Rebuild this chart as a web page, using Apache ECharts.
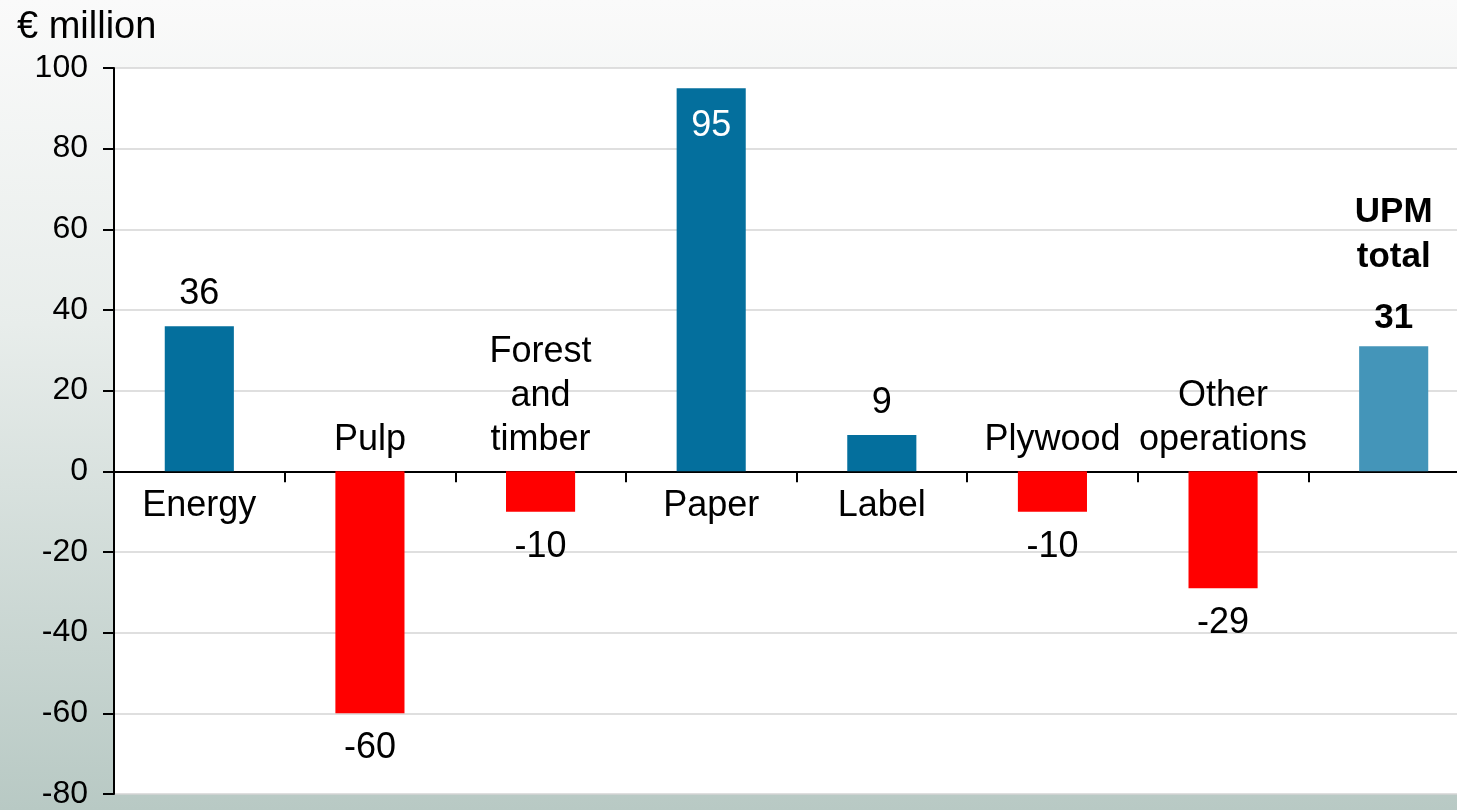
<!DOCTYPE html>
<html>
<head>
<meta charset="utf-8">
<script src="https://cdn.jsdelivr.net/npm/echarts@6/dist/echarts.min.js"></script>
<style>
html,body{margin:0;padding:0;}
body{width:1457px;height:810px;overflow:hidden;background:linear-gradient(to bottom,#fafafa 0%,#e8edeb 40%,#b8c9c4 100%);}
#chart{width:1479px;height:810px;}
</style>
</head>
<body>
<div id="chart"></div>
<script>
const categories = ['Energy','Pulp','Forest and timber','Paper','Label','Plywood','Other operations','UPM total'];
const values = [36, -60, -10, 95, 9, -10, -29, 31];
const nameLabels = ['Energy','Pulp','Forest\nand\ntimber','Paper','Label','Plywood','Other\noperations',''];
const totalName = 'UPM\ntotal';
const unitLabel = '€ million';

const FONT = 'Arial, "Liberation Sans", sans-serif';
const BLUE = '#046f9d';
const RED = '#ff0000';
const TOTAL = '#4495b9';

const barData = values.map((v, i) => {
  const isTotal = i === values.length - 1;
  const item = { value: v, itemStyle: { color: isTotal ? TOTAL : (v >= 0 ? BLUE : RED) } };
  if (isTotal) {
    const parts = totalName.split('\n').map(s => '{n|' + s + '}');
    item.label = {
      show: true, position: 'top', distance: 5,
      formatter: parts.join('\n') + '\n{s|}\n{n|' + v + '}',
      rich: {
        n: { fontFamily: FONT, fontSize: 35, fontWeight: 'bold', color: '#000', lineHeight: 45 },
        s: { fontSize: 1, lineHeight: 16 }
      }
    };
  } else if (v >= 80) {
    item.label = { show: true, position: 'insideTop', distance: 18, color: '#fff' };
  } else if (v >= 0) {
    item.label = { show: true, position: 'top', distance: 12 };
  } else {
    item.label = { show: true, position: 'bottom', distance: 15 };
  }
  return item;
});

const nameData = values.map((v, i) => ({
  value: 0,
  label: {
    show: true,
    formatter: nameLabels[i],
    position: v >= 0 ? 'bottom' : 'top',
    distance: v >= 0 ? 13 : 9
  }
}));

const chart = echarts.init(document.getElementById('chart'), null, { renderer: 'canvas' });
chart.setOption({
  animation: false,
  backgroundColor: 'transparent',
  title: {
    text: unitLabel, left: 12, top: 4,
    textStyle: { fontFamily: FONT, fontSize: 38, fontWeight: 'normal', color: '#000' }
  },
  grid: {
    left: 114, right: 0, top: 68, bottom: 15,
    show: true, backgroundColor: '#ffffff', borderWidth: 0
  },
  xAxis: {
    type: 'category',
    data: categories,
    axisLine: { onZero: true, lineStyle: { color: '#000', width: 2 } },
    axisTick: { show: true, length: 11, lineStyle: { color: '#000', width: 2 } },
    axisLabel: { show: false },
    splitLine: { show: false }
  },
  yAxis: {
    type: 'value',
    min: -80, max: 100, interval: 20,
    axisLine: { show: true, lineStyle: { color: '#000', width: 2 } },
    axisTick: { show: true, length: 11, lineStyle: { color: '#000', width: 2 } },
    axisLabel: { margin: 26, fontFamily: FONT, fontSize: 32, color: '#000' },
    splitLine: { show: true, lineStyle: { color: '#d4d4d4', width: 1.5 } }
  },
  series: [
    {
      type: 'bar',
      data: barData,
      barWidth: '40.5%',
      label: { fontFamily: FONT, fontSize: 36, color: '#000', lineHeight: 40 },
      z: 2
    },
    {
      type: 'scatter',
      data: nameData,
      symbolSize: 0,
      silent: true,
      itemStyle: { opacity: 1, color: '#000' },
      label: { fontFamily: FONT, fontSize: 36, color: '#000', lineHeight: 44, align: 'center' },
      z: 3
    }
  ]
});
</script>
</body>
</html>
